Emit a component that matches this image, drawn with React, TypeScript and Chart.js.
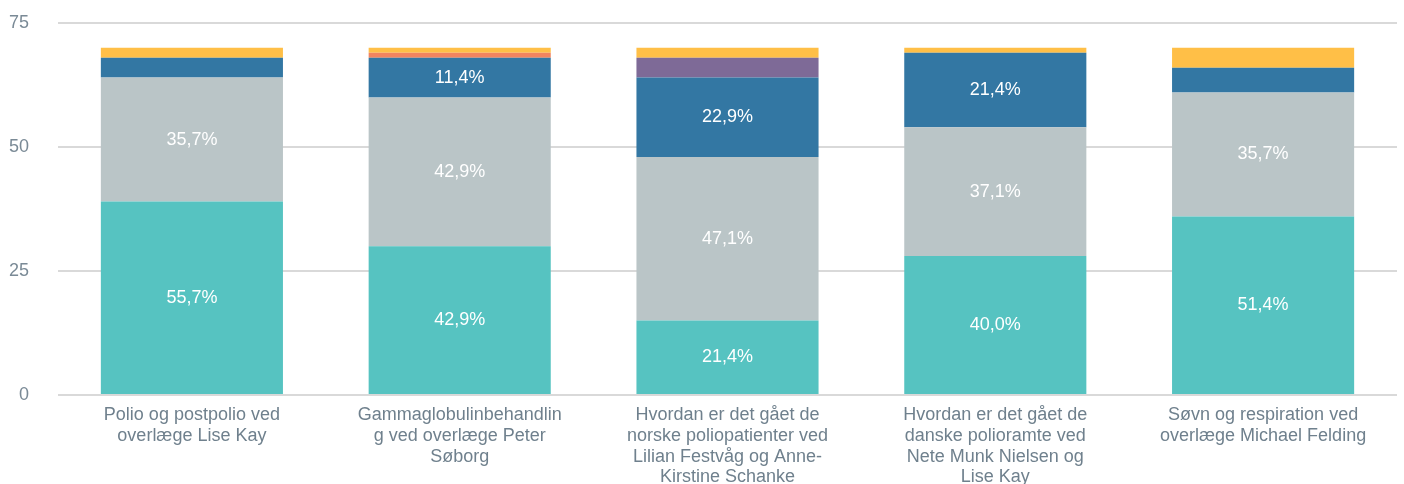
import React, { useEffect, useRef } from "react";
import { Chart, registerables } from "chart.js";

Chart.register(...registerables);

const categories: string[][] = [
  ["Polio og postpolio ved", "overlæge Lise Kay"],
  ["Gammaglobulinbehandlin", "g ved overlæge Peter", "Søborg"],
  ["Hvordan er det gået de", "norske poliopatienter ved", "Lilian Festvåg og Anne-", "Kirstine Schanke"],
  ["Hvordan er det gået de", "danske polioramte ved", "Nete Munk Nielsen og", "Lise Kay"],
  ["Søvn og respiration ved", "overlæge Michael Felding"],
];

const seriesNames = ["Meget godt", "Godt", "Nogenlunde", "Dårligt", "Meget dårligt", "Ved ikke"];
const veryGood = [39, 30, 15, 28, 36];
const good = [25, 30, 33, 26, 25];
const fair = [4, 8, 16, 15, 5];
const poor = [0, 1, 0, 0, 0];
const veryPoor = [0, 0, 4, 0, 0];
const dontKnow = [2, 1, 2, 1, 4];
const seriesValues = [veryGood, good, fair, poor, veryPoor, dontKnow];
const seriesColors = ["#56C3C1", "#BAC5C7", "#3377A3", "#F2845F", "#7E6A97", "#FFBF47"];
const yTicks = [0, 25, 50, 75];
const respondents = 70;

const FONT = "'Liberation Sans', Arial, sans-serif";

const labelPlugin = {
  id: "segLabels",
  afterDatasetsDraw(chart: any) {
    const ctx = chart.ctx;
    ctx.save();
    ctx.fillStyle = "#ffffff";
    ctx.font = "18px " + FONT;
    ctx.textAlign = "center";
    ctx.textBaseline = "middle";
    chart.data.datasets.forEach((ds: any, di: number) => {
      const meta = chart.getDatasetMeta(di);
      meta.data.forEach((bar: any, i: number) => {
        const v = ds.data[i];
        const pct = (v / respondents) * 100;
        if (pct < 10) return;
        const y = (bar.y + bar.base) / 2;
        ctx.fillText(pct.toFixed(1).replace(".", ",") + "%", bar.x, y);
      });
    });
    ctx.restore();
  },
};

export default function App() {
  const ref = useRef<HTMLCanvasElement | null>(null);
  useEffect(() => {
    if (!ref.current) return;
    const chart = new Chart(ref.current, {
      type: "bar",
      data: {
        labels: categories,
        datasets: seriesValues.map((vals, i) => ({
          label: seriesNames[i],
          data: vals,
          backgroundColor: seriesColors[i],
          borderWidth: 0,
          categoryPercentage: 1,
          barPercentage: 0.68,
        })),
      },
      options: {
        animation: false,
        responsive: false,
        maintainAspectRatio: false,
        layout: { padding: { top: 23, right: 7, bottom: 0, left: 0 } },
        plugins: { legend: { display: false }, tooltip: { enabled: false } },
        scales: {
          x: {
            stacked: true,
            afterFit: (s: any) => { s.height = 89; s.paddingTop = 0; s.paddingBottom = 0; },
            grid: { display: false, drawTicks: false },
            border: { display: false },
            ticks: {
              color: "#6F808D",
              font: { family: FONT, size: 18, lineHeight: 1.15 },
              padding: 10,
              maxRotation: 0,
              autoSkip: false,
            },
          },
          y: {
            stacked: true,
            min: 0,
            max: 75,
            afterFit: (s: any) => { s.width = 58; s.paddingTop = 0; s.paddingBottom = 0; },
            afterBuildTicks: (s: any) => { s.ticks = yTicks.map((v) => ({ value: v })); },
            grid: { color: "#D9D9D9", lineWidth: 2, drawTicks: false },
            border: { display: false },
            ticks: {
              color: "#7A8A96",
              font: { family: FONT, size: 18 },
              padding: 29,
            },
          },
        },
      },
      plugins: [labelPlugin],
    });
    return () => chart.destroy();
  }, []);
  return (
    <div style={{ position: "fixed", left: 0, top: 0, width: 1404, height: 484, background: "#fff" }}>
      <canvas ref={ref} width={1404} height={484} style={{ width: 1404, height: 484 }} />
    </div>
  );
}
